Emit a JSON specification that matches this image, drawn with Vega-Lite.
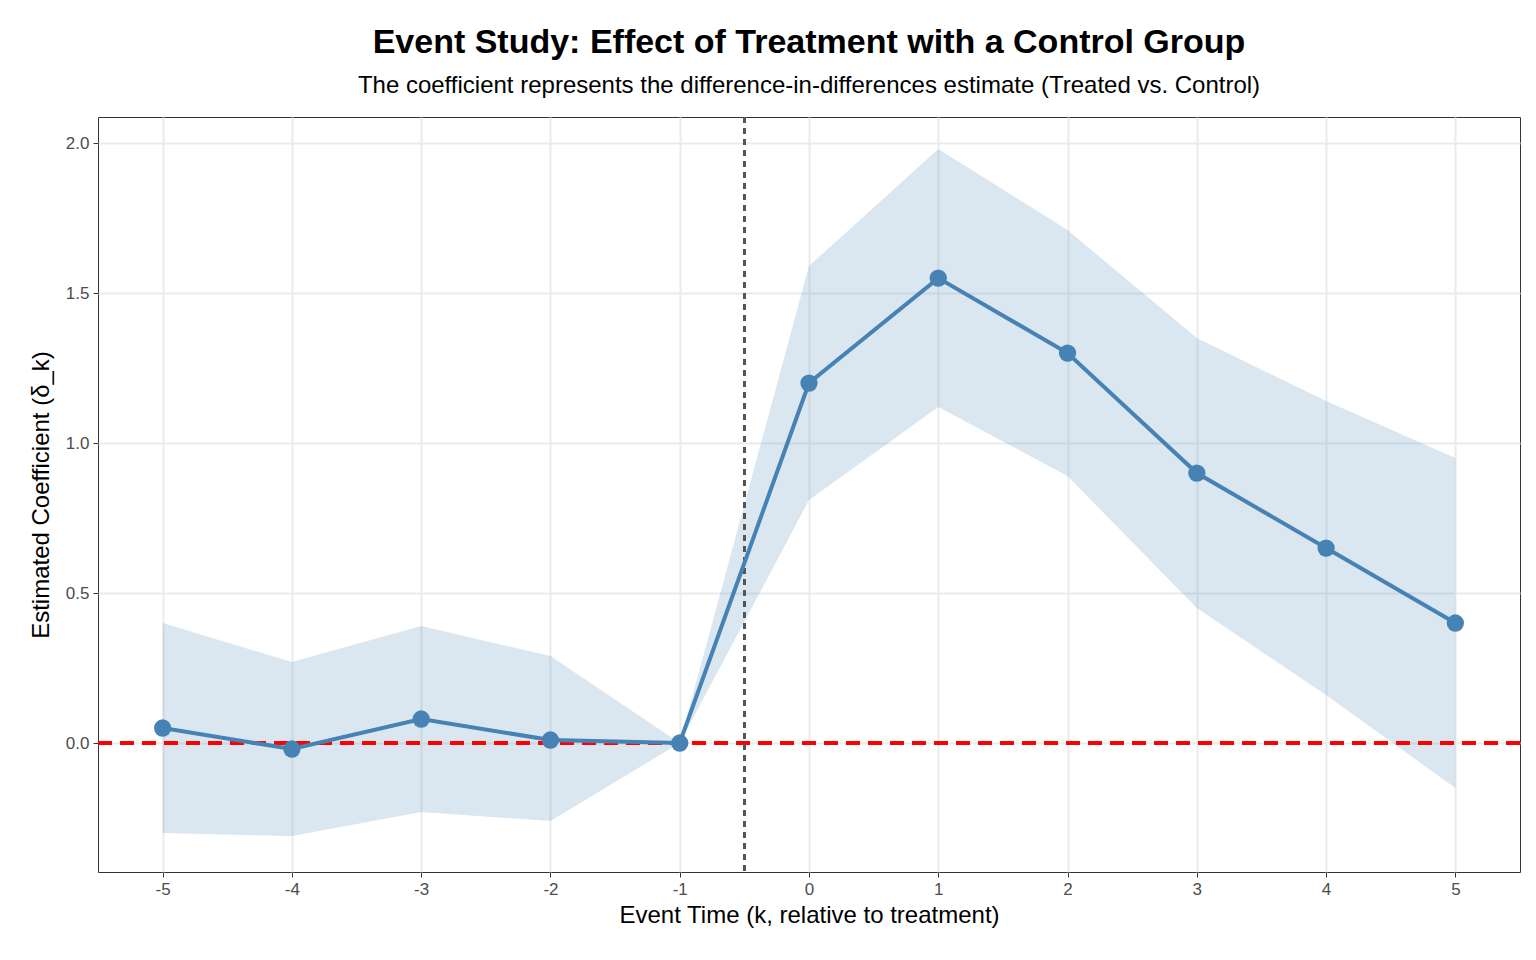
{
  "$schema": "https://vega.github.io/schema/vega-lite/v6.json",
  "width": 1422,
  "height": 755,
  "autosize": "none",
  "padding": {"left": 98, "top": 117, "right": 16, "bottom": 88},
  "background": "white",
  "title": {
    "text": "Event Study: Effect of Treatment with a Control Group",
    "subtitle": "The coefficient represents the difference-in-differences estimate (Treated vs. Control)",
    "anchor": "middle",
    "font": "Liberation Sans",
    "fontSize": 34,
    "fontWeight": "bold",
    "subtitleFont": "Liberation Sans",
    "subtitleFontSize": 24,
    "subtitleColor": "black",
    "offset": 18,
    "subtitlePadding": 14
  },
  "config": {
    "view": {"stroke": "#333333", "strokeWidth": 1}
  },
  "data": {
    "values": [
      {"k": -5, "est": 0.05, "lo": -0.30, "hi": 0.40},
      {"k": -4, "est": -0.02, "lo": -0.31, "hi": 0.27},
      {"k": -3, "est": 0.08, "lo": -0.23, "hi": 0.39},
      {"k": -2, "est": 0.01, "lo": -0.26, "hi": 0.29},
      {"k": -1, "est": 0.0, "lo": 0.0, "hi": 0.0},
      {"k": 0, "est": 1.2, "lo": 0.81, "hi": 1.59},
      {"k": 1, "est": 1.55, "lo": 1.12, "hi": 1.98},
      {"k": 2, "est": 1.30, "lo": 0.89, "hi": 1.71},
      {"k": 3, "est": 0.90, "lo": 0.45, "hi": 1.35},
      {"k": 4, "est": 0.65, "lo": 0.16, "hi": 1.14},
      {"k": 5, "est": 0.40, "lo": -0.15, "hi": 0.95}
    ]
  },
  "encoding": {
    "x": {
      "field": "k", "type": "quantitative",
      "scale": {"domain": [-5.5, 5.5], "nice": false, "zero": false},
      "axis": {
        "values": [-5,-4,-3,-2,-1,0,1,2,3,4,5], "labelAngle": 0, "labelExpr": "'' + datum.value",
        "labelFont": "Liberation Sans", "labelFontSize": 17, "labelColor": "#4d4d4d",
        "titleFont": "Liberation Sans", "titleFontSize": 24, "titleFontWeight": "normal", "titleColor": "black",
        "gridColor": "#ebebeb", "gridWidth": 2, "domain": false, "tickColor": "#333333", "tickSize": 5,
        "labelPadding": 4, "titlePadding": 6
      },
      "title": "Event Time (k, relative to treatment)"
    }
  },
  "layer": [
    {
      "mark": {"type": "area", "color": "#4682b4", "opacity": 0.2},
      "encoding": {
        "y": {
          "field": "lo", "type": "quantitative",
          "scale": {"domain": [-0.43, 2.087], "nice": false, "zero": false},
          "axis": {
            "values": [0, 0.5, 1, 1.5, 2], "labelExpr": "format(datum.value, '.1f')",
            "labelFont": "Liberation Sans", "labelFontSize": 17, "labelColor": "#4d4d4d",
            "titleFont": "Liberation Sans", "titleFontSize": 24, "titleFontWeight": "normal", "titleColor": "black",
            "gridColor": "#ebebeb", "gridWidth": 2, "domain": false, "tickColor": "#333333", "tickSize": 5,
            "labelPadding": 4, "titlePadding": 12
          },
          "title": "Estimated Coefficient (δ_k)"
        },
        "y2": {"field": "hi"}
      }
    },
    {
      "mark": {"type": "rule", "color": "red", "strokeWidth": 3.5, "strokeDash": [14, 8]},
      "encoding": {"y": {"datum": 0, "type": "quantitative"}, "x": {"value": 0}, "x2": {"value": 1422}}
    },
    {
      "mark": {"type": "rule", "color": "#555555", "strokeWidth": 2, "strokeDash": [6, 5]},
      "encoding": {"x": {"datum": -0.5, "type": "quantitative"}}
    },
    {
      "mark": {"type": "line", "color": "#4682b4", "strokeWidth": 4},
      "encoding": {"y": {"field": "est", "type": "quantitative"}}
    },
    {
      "mark": {"type": "circle", "color": "#4682b4", "opacity": 1, "size": 300},
      "encoding": {"y": {"field": "est", "type": "quantitative"}}
    }
  ]
}
